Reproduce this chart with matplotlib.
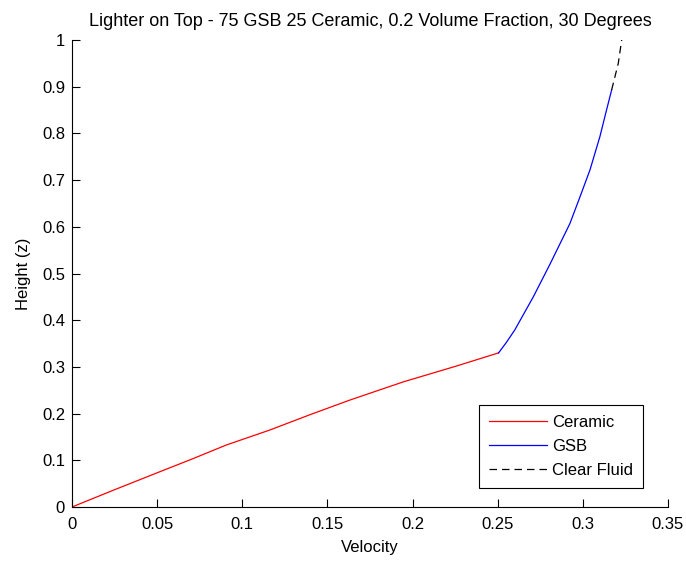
import matplotlib
matplotlib.use("Agg")
import matplotlib.pyplot as plt

plt.rcParams['font.family'] = ['Liberation Sans', 'DejaVu Sans']

# velocity profile pieces (velocity, height)
ceramic_v = [0.0, 0.025, 0.0517, 0.07, 0.0908, 0.1163, 0.14, 0.1632, 0.1946, 0.225, 0.2505]
ceramic_z = [0.0, 0.037, 0.0757, 0.102, 0.133, 0.165, 0.198, 0.229, 0.268, 0.301, 0.33]

gsb_v = [0.2505, 0.255, 0.260, 0.2709, 0.2807, 0.2924, 0.2983, 0.3042, 0.3100, 0.3139, 0.3169]
gsb_z = [0.33, 0.352, 0.379, 0.450, 0.520, 0.607, 0.664, 0.722, 0.793, 0.850, 0.893]

fluid_v = [0.3169, 0.3208, 0.3228]
fluid_z = [0.893, 0.95, 1.0]

fig = plt.figure(figsize=(6.86, 5.61), dpi=100)
ax = fig.add_axes([72/686, 1 - 507/561, 596/686, 467/561])

ax.plot(ceramic_v, ceramic_z, color='red', lw=0.9, label='Ceramic')
ax.plot(gsb_v, gsb_z, color='blue', lw=0.9, label='GSB')
ax.plot(fluid_v, fluid_z, color='black', lw=0.9, ls=(0, (6, 4)), label='Clear Fluid')

ax.set_xlim(0, 0.35)
ax.set_ylim(0, 1)
ax.set_xticks([0, 0.05, 0.1, 0.15, 0.2, 0.25, 0.3, 0.35])
ax.set_xticklabels(['0', '0.05', '0.1', '0.15', '0.2', '0.25', '0.3', '0.35'])
ax.set_yticks([i / 10 for i in range(11)])
ax.set_yticklabels(['0', '0.1', '0.2', '0.3', '0.4', '0.5', '0.6', '0.7', '0.8', '0.9', '1'])

for s in ['top', 'right']:
    ax.spines[s].set_visible(False)
ax.tick_params(direction='in', length=6, width=0.8, labelsize=12)
ax.tick_params(axis='x', pad=7)
ax.tick_params(axis='y', pad=5)

ax.set_xlabel('Velocity', fontsize=12, labelpad=6)
ax.set_ylabel('Height (z)', fontsize=12, labelpad=8)
ax.set_title('Lighter on Top - 75 GSB 25 Ceramic, 0.2 Volume Fraction, 30 Degrees',
             fontsize=13, pad=10)

leg = ax.legend(loc='lower right', bbox_to_anchor=(643/686, 1 - 488/561),
                bbox_transform=fig.transFigure, fontsize=12, fancybox=False,
                framealpha=1, edgecolor='black', handlelength=3.5,
                handletextpad=0.3, borderpad=0.6, labelspacing=0.55,
                borderaxespad=0)
leg.get_frame().set_linewidth(0.8)

fig.savefig('out.png', dpi=100)
